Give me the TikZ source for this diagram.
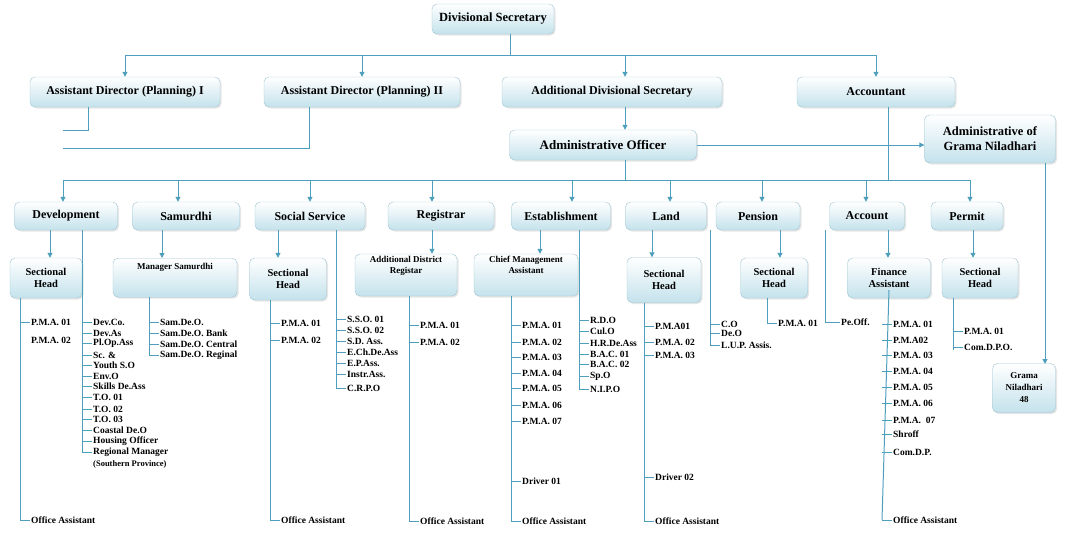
\documentclass[tikz,border=0pt]{standalone}
\usepackage{fontspec}
\setmainfont{Liberation Serif}
\usetikzlibrary{arrows.meta,shadows}
\definecolor{linkblue}{HTML}{4E9FBC}
\definecolor{boxblue}{HTML}{C4E2EC}
\definecolor{boxedge}{HTML}{9FC4D2}
\tikzset{
    box/.style 2 args={rounded corners=5pt, top color=white, bottom color=boxblue, draw=boxedge,
        drop shadow={opacity=0.2, shadow xshift=1.5pt, shadow yshift=-1.5pt},
        minimum width=#1, minimum height=#2, inner sep=1pt, align=center, font=\bfseries},
    link/.style={draw=linkblue, line width=1pt},
    arr/.style={link, -{Triangle[width=5pt,length=5pt]}},
    item/.style={anchor=west, inner sep=1pt, font=\bfseries\fontsize{9.5}{9.5}\selectfont}
}
% list of staff hanging off a vertical line: x of line, top y, prefix, items
\newcommand{\stafflist}[4]{%
    \foreach \t/\yy [count=\k] in {#4} {
        \node[item] (#3\k) at (#1+10,\yy) {\t};
        \draw[link] (#1,\yy) -- (#3\k.west);
    }
}
\begin{document}
\begin{tikzpicture}[x=1pt, y=-1pt]
    \useasboundingbox (0,0) rectangle (1072,533);

    %% Top levels
    \node[box={122pt}{30pt}, font=\bfseries\fontsize{12.5}{14}\selectfont] (ds) at (493,19) {Divisional Secretary};
    \node[box={190pt}{30pt}, font=\bfseries\fontsize{12}{14}\selectfont] (ad1) at (125,92) {Assistant Director (Planning) I};
    \node[box={196pt}{30pt}, font=\bfseries\fontsize{12}{14}\selectfont] (ad2) at (362,92) {Assistant Director (Planning) II};
    \node[box={220pt}{30pt}, font=\bfseries\fontsize{12}{14}\selectfont] (ads) at (612,92) {Additional Divisional Secretary};
    \node[box={158pt}{30pt}, font=\bfseries\fontsize{12}{14}\selectfont] (acc) at (876,92) {Accountant};
    \node[box={187pt}{30pt}, font=\bfseries\fontsize{13}{15}\selectfont] (ao) at (603,145) {Administrative Officer};
    \node[box={131pt}{48pt}, font=\bfseries\fontsize{12.5}{15}\selectfont] (agn) at (990,139) {Administrative of\\Grama Niladhari};

    % Divisional Secretary bus
    \coordinate (b1) at (510,55);
    \draw[link] (ds.south -| b1) -- (b1);
    \draw[link] (125,55) -- (876,55);
    \foreach \n/\x in {ad1/125, ad2/362, ads/625, acc/876}
        \draw[arr] (\x,55) -- (\n.north -| \x,0);
    \draw[arr] (ads.south -| 625,0) -- (ao.north -| 625,0);
    \draw[arr] (ao.east) -- (agn.west |- ao.east);

    %% Second row
    \foreach \n/\x/\w/\t in {dev/66/103/Development, sam/186/107/Samurdhi, soc/310/110/Social Service,
            reg/441/106/Registrar, est/561/99/Establishment, land/666/81/Land,
            pen/758/84/Pension, acct/867/75/Account, perm/967/72/Permit}
        \node[box={\w pt}{28pt}, font=\bfseries\fontsize{12}{14}\selectfont] (\n) at (\x,216) {\t};

    % Administrative Officer bus
    \draw[link] (ao.south -| 625,0) -- (625,180);
    \draw[link] (63,180) -- (970,180);
    \foreach \n/\x in {dev/63, sam/178, soc/310, reg/432, est/572, land/670, pen/762, acct/866, perm/970}
        \draw[arr] (\x,180) -- (\n.north -| \x,0);
    \draw[link] (acc.south -| 888,0) -- (888,180);
    \draw[link] (ad1.south -| 88,0) -- (88,130) -- (63,130);
    \draw[link] (ad2.south -| 309,0) -- (309,148) -- (63,148);
    \draw[arr] (agn.south -| 1045,0) -- (1045,364);

    %% Third row
    \tikzset{sub/.style={font=\bfseries\fontsize{10.5}{12}\selectfont}}
    \node[box={72pt}{40pt}, sub] (sh1) at (46,278) {Sectional\\Head};
    \node[box={124pt}{39pt}, font=\bfseries\fontsize{9}{11}\selectfont, anchor=north, text depth=22pt] (ms) at (175,258) {Manager Samurdhi};
    \node[box={77pt}{42pt}, sub] (sh2) at (288,279) {Sectional\\Head};
    \node[box={102pt}{42pt}, font=\bfseries\fontsize{9}{11}\selectfont] (adr) at (406,275) {Additional District\\Registar\\[10pt]};
    \node[box={104pt}{42pt}, font=\bfseries\fontsize{9}{11}\selectfont] (cma) at (526,275) {Chief Management\\Assistant\\[10pt]};
    \node[box={74pt}{45pt}, sub] (sh3) at (664,280) {Sectional\\Head};
    \node[box={67pt}{40pt}, sub] (sh4) at (774,278) {Sectional\\Head};
    \node[box={83pt}{40pt}, sub] (fa) at (889,278) {Finance\\Assistant};
    \node[box={76pt}{40pt}, sub] (sh5) at (980,278) {Sectional\\Head};
    \node[box={63pt}{49pt}, font=\bfseries\fontsize{9}{12}\selectfont] (gn) at (1024,388) {Grama\\Niladhari\\48};
    \foreach \a/\b/\x in {dev/sh1/50, sam/ms/162, soc/sh2/278, reg/adr/432, est/cma/540,
            land/sh3/652, pen/sh4/780, acct/fa/888, perm/sh5/973}
        \draw[arr] (\a.south -| \x,0) -- (\b.north -| \x,0);

    %% Staff lists
    % Development
    \draw[link] (sh1.south -| 20,0) -- (20,520);
    \stafflist{20}{}{pa}{P.M.A. 01/322, Office Assistant/520}
    \node[item] (pa3) at (30,340) {P.M.A. 02};
    \draw[link] (dev.south -| 82,0) -- (82,453);
    \stafflist{82}{}{da}{Dev.Co./322, Dev.As/333, Pl.Op.Ass/343, Sc. \&/355, Youth S.O/365, Env.O/376,
        Skills De.Ass/386, T.O. 01/397, T.O. 02/409, T.O. 03/419, Coastal De.O/430, Housing Officer/441,
        Regional Manager/452}
    \node[item, font=\bfseries\fontsize{8.5}{9}\selectfont] (da14) at (92,464) {(Southern Province)};
    % Samurdhi
    \draw[link] (ms.south -| 149,0) -- (149,355);
    \stafflist{149}{}{sm}{Sam.De.O./322, Sam.De.O. Bank/333, Sam.De.O. Central/344, Sam.De.O. Reginal/355}
    % Social Service
    \draw[link] (sh2.south -| 270,0) -- (270,520);
    \stafflist{270}{}{sa}{P.M.A. 01/323, P.M.A. 02/340, Office Assistant/520}
    \draw[link] (soc.south -| 336,0) -- (336,388);
    \stafflist{336}{}{so}{S.S.O. 01/319, S.S.O. 02/330, S.D. Ass./341, E.Ch.De.Ass/352, E.P.Ass./363,
        Instr.Ass./374, C.R.P.O/388}
    % Registrar
    \draw[link] (adr.south -| 409,0) -- (409,521);
    \stafflist{409}{}{ra}{P.M.A. 01/325, P.M.A. 02/342, Office Assistant/521}
    % Establishment
    \draw[link] (cma.south -| 511,0) -- (511,521);
    \stafflist{511}{}{ca}{P.M.A. 01/325, P.M.A. 02/342, P.M.A. 03/357, P.M.A. 04/373, P.M.A. 05/388,
        P.M.A. 06/405, P.M.A. 07/421, Driver 01/481, Office Assistant/521}
    \draw[link] (est.south -| 579,0) -- (579,389);
    \stafflist{579}{}{eo}{R.D.O/320, Cul.O/331, H.R.De.Ass/343, B.A.C. 01/354, B.A.C. 02/364, Sp.O/376, N.I.P.O/389}
    % Land
    \draw[link] (sh3.south -| 644,0) -- (644,521);
    \stafflist{644}{}{la}{P.M.A01/326, P.M.A. 02/342, P.M.A. 03/355, Driver 02/477, Office Assistant/521}
    \draw[link] (land.south -| 710,0) -- (710,345);
    \stafflist{710}{}{lo}{C.O/324, De.O/333, L.U.P. Assis./345}
    % Pension
    \draw[link] (sh4.south -| 767,0) -- (767,323);
    \stafflist{767}{}{pe}{P.M.A. 01/323}
    \draw[link] (pen.south -| 825,0) -- (825,323);
    \node[item] (po) at (840,322) {Pe.Off.};
    \draw[link] (825,322) -- (po.west);
    % Account
    \draw[link] (fa.center |- 0,290) -- (882,520);
    \stafflist{882}{}{fa}{P.M.A. 01/324, P.M.A02/340, P.M.A. 03/355, P.M.A. 04/371, P.M.A. 05/387,
        P.M.A. 06/403, P.M.A.~~07/420, Shroff/434, Com.D.P./452, Office Assistant/520}
    % Permit
    \draw[link] (sh5.south -| 953,0) -- (953,350);
    \stafflist{953}{}{pm}{P.M.A. 01/331, Com.D.P.O./347}

\end{tikzpicture}
\end{document}
